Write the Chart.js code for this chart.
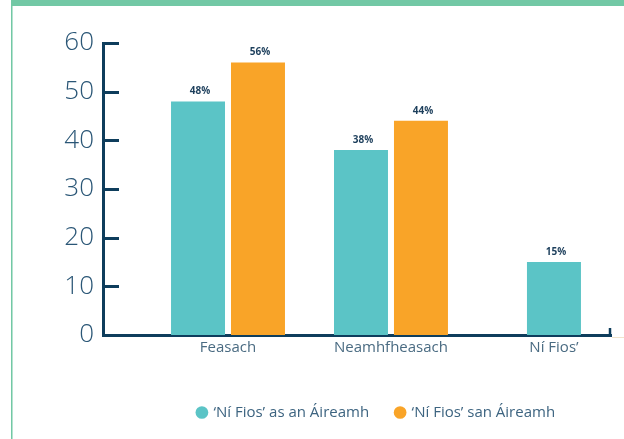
<!DOCTYPE html>
<html>
<head>
<meta charset="utf-8">
<script src="https://cdn.jsdelivr.net/npm/chart.js@4.4.1/dist/chart.umd.min.js"></script>
<style>
  html, body { margin: 0; padding: 0; background: #ffffff; }
  #wrap { width: 624px; height: 439px; }
</style>
</head>
<body>
<div id="wrap"><canvas id="c" width="624" height="439"></canvas></div>
<script>
// ---- data ----
const categories = ['Feasach', 'Neamhfheasach', 'Ní Fios’'];
const seriesNames = ['‘Ní Fios’ as an Áireamh', '‘Ní Fios’ san Áireamh'];
const excludedValues = [48, 38, 15];
const includedValues = [56, 44, null];
const yTicks = [0, 10, 20, 30, 40, 50, 60];

// ---- styles ----
const TEAL = '#5BC4C6';
const ORANGE = '#F9A428';
const NAVY = '#0E3D5C';
const FONT = "'Open Sans', 'Noto Sans', sans-serif";

const toPoints = vals => vals.map((v, i) => ({ x: i, y: v }));

const framePlugin = {
  id: 'frame',
  beforeDraw(chart) {
    const ctx = chart.ctx;
    ctx.save();
    ctx.fillStyle = '#ffffff';
    ctx.fillRect(0, 0, chart.width, chart.height);
    ctx.fillStyle = '#72C8A5';
    ctx.fillRect(11, 0, chart.width - 11, 6);
    ctx.fillStyle = '#72C8A5';
    ctx.fillRect(11, 0, 1, chart.height);
    ctx.fillStyle = '#B5E2CF';
    ctx.fillRect(12, 6, 1, chart.height - 6);
    ctx.restore();
  }
};

const axisMarksPlugin = {
  id: 'axisMarks',
  afterDraw(chart) {
    const ctx = chart.ctx;
    const y = chart.scales.y;
    const area = chart.chartArea;
    ctx.save();
    ctx.strokeStyle = NAVY;
    ctx.lineWidth = 3;
    yTicks.forEach(v => {
      const py = Math.round(y.getPixelForValue(v)) + 0.5;
      ctx.beginPath();
      ctx.moveTo(area.left, py);
      ctx.lineTo(area.left + 16, py);
      ctx.stroke();
    });
    // right end tick of x axis
    ctx.lineWidth = 2.5;
    ctx.beginPath();
    ctx.moveTo(area.right - 1, area.bottom + 1);
    ctx.lineTo(area.right - 1, area.bottom - 7);
    ctx.stroke();
    ctx.strokeStyle = '#F1E4CC';
    ctx.lineWidth = 1;
    ctx.beginPath();
    ctx.moveTo(area.right + 1, area.bottom + 2.5);
    ctx.lineTo(chart.width, area.bottom + 2.5);
    ctx.stroke();
    ctx.restore();
  }
};

const valueLabelPlugin = {
  id: 'valueLabels',
  afterDatasetsDraw(chart) {
    const ctx = chart.ctx;
    ctx.save();
    ctx.font = "bold 10px " + FONT;
    ctx.fillStyle = '#1D3F5C';
    ctx.textAlign = 'center';
    ctx.textBaseline = 'middle';
    chart.data.datasets.forEach((ds, di) => {
      const meta = chart.getDatasetMeta(di);
      meta.data.forEach((bar, i) => {
        const v = ds.data[i].y;
        if (v === null || v === undefined) return;
        ctx.fillText(v + '%', bar.x + 2, bar.y - 10);
      });
    });
    ctx.restore();
  }
};

const legendShiftPlugin = {
  id: 'legendShift',
  afterLayout(chart) {
    const lg = chart.legend;
    if (lg) { lg.left += 71; lg.right += 71; }
  }
};

new Chart(document.getElementById('c'), {
  type: 'bar',
  data: {
    datasets: [
      { label: seriesNames[0], data: toPoints(excludedValues), backgroundColor: TEAL, borderWidth: 0 },
      { label: seriesNames[1], data: toPoints(includedValues), backgroundColor: ORANGE, borderWidth: 0 }
    ]
  },
  options: {
    responsive: false,
    animation: false,
    devicePixelRatio: 1,
    skipNull: true,
    categoryPercentage: 0.736,
    barPercentage: 0.9,
    maxBarThickness: 54,
    layout: { padding: { left: 0, right: 13, top: 43, bottom: 9 } },
    plugins: {
      tooltip: { enabled: false },
      legend: {
        position: 'bottom',
        labels: {
          usePointStyle: true,
          pointStyle: 'circle',
          boxWidth: 8,
          boxHeight: 9,
          padding: 27,
          color: '#3D6480',
          font: { family: FONT, size: 15 }
        }
      }
    },
    scales: {
      x: {
        type: 'linear',
        offset: false,
        min: -0.767,
        max: 2.35,
        grid: { display: false, drawTicks: false, offset: false },
        border: { display: true, color: NAVY, width: 3 },
        ticks: {
          stepSize: 1,
          includeBounds: false,
          autoSkip: false,
          maxRotation: 0,
          padding: 4,
          color: '#4A6B82',
          font: { family: FONT, size: 15 },
          callback: v => categories[Math.round(v)] ?? ''
        },
        afterFit: s => { s.height = 43; }
      },
      y: {
        min: 0,
        max: 60,
        grid: { display: false, drawTicks: false },
        border: { display: true, color: NAVY, width: 3 },
        ticks: {
          stepSize: 10,
          padding: 9,
          color: '#2A5676',
          font: { family: FONT, size: 26, weight: '300' }
        },
        afterFit: s => { s.width = 103; }
      }
    }
  },
  plugins: [framePlugin, axisMarksPlugin, valueLabelPlugin, legendShiftPlugin]
});
</script>
</body>
</html>
